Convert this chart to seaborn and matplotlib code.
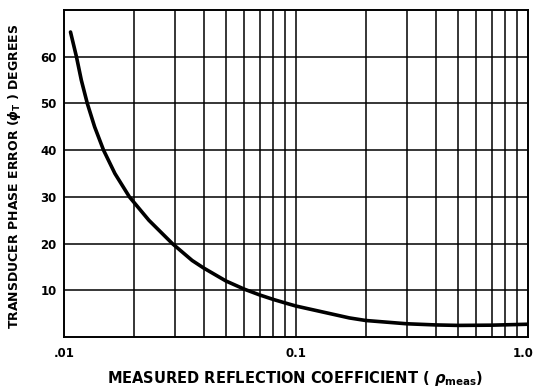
import matplotlib
matplotlib.use("Agg")
import matplotlib.pyplot as plt
import matplotlib.transforms as mtransforms
import seaborn as sns
import pandas as pd
from matplotlib.ticker import FixedLocator, NullLocator, FixedFormatter

sns.set_theme(style="white")
plt.rcParams["font.family"] = ["DejaVu Sans"]
plt.rcParams["font.weight"] = "bold"
plt.rcParams["mathtext.fontset"] = "dejavusans"

# Measured reflection coefficient and resulting transducer phase error (degrees)
rho_meas = [0.01069, 0.01134, 0.0119, 0.01263, 0.01358, 0.01484, 0.01661,
            0.01918, 0.02327, 0.02938, 0.03573, 0.04, 0.05, 0.06, 0.07, 0.08,
            0.09, 0.1, 0.17, 0.2, 0.3, 0.4, 0.5, 0.7, 1.0]
phase_err = [65.3, 60.0, 55.0, 50.0, 45.0, 40.0, 35.0,
             30.0, 25.0, 20.0, 16.4, 14.8, 12.0, 10.25, 9.0, 8.05,
             7.3, 6.65, 4.1, 3.55, 2.85, 2.6, 2.5, 2.55, 2.75]

x_ticks = [0.01, 0.1, 1.0]
x_tick_labels = [".01", "0.1", "1.0"]
y_ticks = [10, 20, 30, 40, 50, 60]
x_grid = [0.02, 0.03, 0.04, 0.05, 0.06, 0.07, 0.08, 0.09, 0.1,
          0.2, 0.3, 0.4, 0.5, 0.6, 0.7, 0.8, 0.9]

df = pd.DataFrame({"rho": rho_meas, "phase": phase_err})

fig = plt.figure(figsize=(5.36, 3.87), dpi=100)
ax = fig.add_axes([0.119, 0.129, 0.866, 0.845])

ax.set_xscale("log")
ax.set_xlim(0.01, 1.0)
ax.set_ylim(0, 70)

for xv in x_grid:
    ax.axvline(xv, color="black", lw=1.1, zorder=1)
for yv in y_ticks:
    ax.axhline(yv, color="black", lw=1.1, zorder=1)

sns.lineplot(data=df, x="rho", y="phase", ax=ax, color="black", lw=2.6, zorder=3)

ax.xaxis.set_major_locator(FixedLocator(x_ticks))
ax.xaxis.set_major_formatter(FixedFormatter(x_tick_labels))
ax.xaxis.set_minor_locator(NullLocator())
ax.set_yticks(y_ticks)
ax.tick_params(axis="both", length=0, labelsize=8.5, colors="black")
ax.tick_params(axis="x", pad=7)
ax.tick_params(axis="y", pad=5)
for lbl in ax.get_xticklabels() + ax.get_yticklabels():
    lbl.set_fontweight("bold")

# keep the right-most tick label inside the figure
last = ax.get_xticklabels()[-1]
last.set_transform(last.get_transform()
                   + mtransforms.ScaledTranslation(-5 / 100, 0, fig.dpi_scale_trans))

for s in ax.spines.values():
    s.set_visible(True)
    s.set_color("black")
    s.set_linewidth(1.4)

ax.set_xlabel("")
ax.set_ylabel("")
fig.text(295 / 536, 1 - 378 / 387,
         r"MEASURED REFLECTION COEFFICIENT ( $\rho_{\mathrm{meas}}$)",
         fontsize=10.5, fontweight="bold", ha="center", va="center", color="black")
fig.text(15 / 536, 1 - 176.5 / 387,
         r"TRANSDUCER PHASE ERROR ($\phi_{\mathrm{T}}$ ) DEGREES",
         fontsize=9.0, fontweight="bold", ha="center", va="center",
         rotation=90, color="black")

fig.savefig("out.png", dpi=100, facecolor="white")
